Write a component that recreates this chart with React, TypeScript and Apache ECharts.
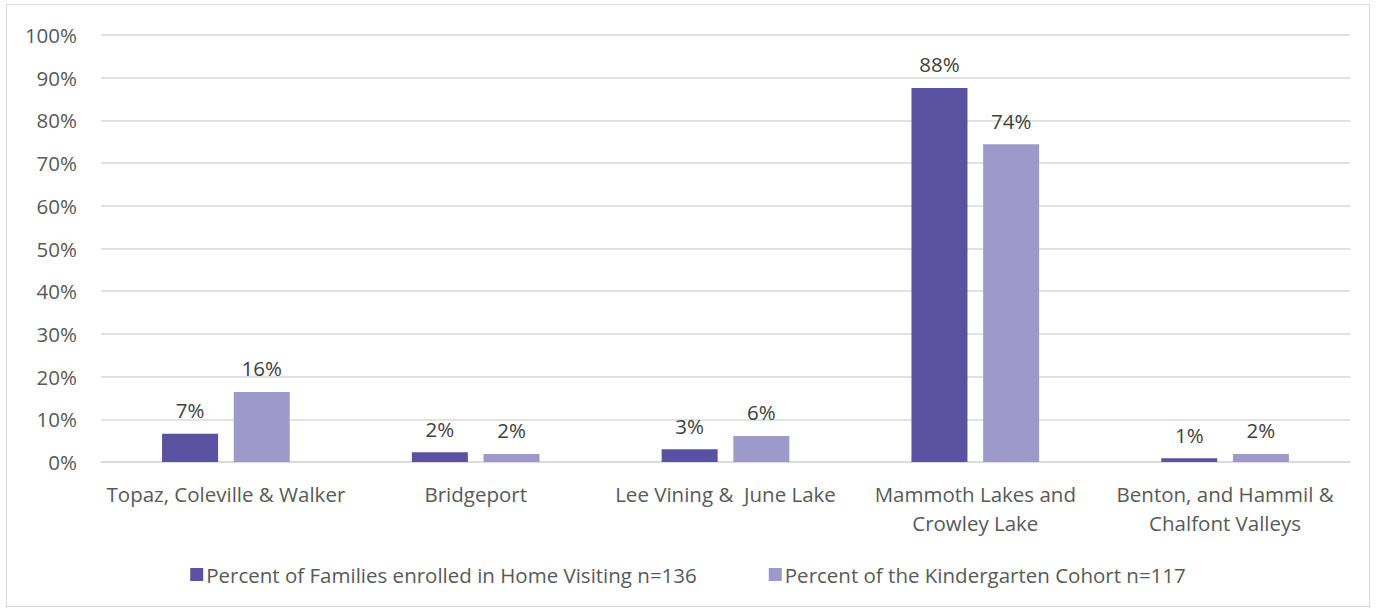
import React, { useEffect, useRef } from "react";
import * as echarts from "echarts";

const categories = [
  "Topaz, Coleville & Walker",
  "Bridgeport",
  "Lee Vining &  June Lake",
  "Mammoth Lakes and\nCrowley Lake",
  "Benton, and Hammil &\nChalfont Valleys",
];
const homeVisiting = [0.066, 0.023, 0.03, 0.876, 0.009];
const kindergarten = [0.164, 0.019, 0.061, 0.744, 0.019];
const seriesNames = [
  "Percent of Families enrolled in Home Visiting n=136",
  "Percent of the Kindergarten Cohort n=117",
];
const colors = ["#5a52a0", "#9e99cb"];

const FONT = "'Open Sans', sans-serif";

export default function App() {
  const ref = useRef<HTMLDivElement>(null);
  useEffect(() => {
    if (!ref.current) return;
    const chart = echarts.init(ref.current, null, { renderer: "svg" });
    const label = {
      show: true,
      position: "top" as const,
      distance: 13,
      color: "#404040",
      fontSize: 20.5,
      fontFamily: FONT,
      formatter: (p: any) => Math.round(p.value * 100) + "%",
    };
    chart.setOption({
      animation: false,
      textStyle: { fontFamily: FONT },
      grid: { left: 94, right: 19, top: 30, bottom: 144, containLabel: false },
      legend: {
        bottom: 16,
        left: "center",
        itemWidth: 13,
        itemHeight: 13,
        itemGap: 72,
        icon: "rect",
        textStyle: { color: "#595959", fontSize: 20.5, fontFamily: FONT, padding: [0, 0, 0, -2] },
        data: seriesNames,
      },
      xAxis: {
        type: "category",
        data: categories,
        axisTick: { show: false },
        axisLine: { lineStyle: { color: "#d9d9d9", width: 1.5 } },
        axisLabel: {
          color: "#595959",
          fontSize: 20.5,
          fontFamily: FONT,
          margin: 17,
          lineHeight: 29,
          interval: 0,
        },
      },
      yAxis: {
        type: "value",
        min: 0,
        max: 1,
        interval: 0.1,
        axisLine: { show: false },
        axisTick: { show: false },
        splitLine: { lineStyle: { color: "#d9d9d9", width: 1.5 } },
        axisLabel: {
          color: "#595959",
          fontSize: 20.5,
          fontFamily: FONT,
          margin: 24,
          formatter: (v: number) => Math.round(v * 100) + "%",
        },
      },
      series: [
        {
          name: seriesNames[0],
          type: "bar",
          data: homeVisiting,
          barWidth: 56,
          barGap: "28%",
          itemStyle: { color: colors[0] },
          label,
        },
        {
          name: seriesNames[1],
          type: "bar",
          data: kindergarten,
          barWidth: 56,
          itemStyle: { color: colors[1] },
          label,
        },
      ],
    });
    return () => chart.dispose();
  }, []);
  return (
    <div
      style={{
        position: "absolute",
        left: 6,
        top: 4,
        width: 1364,
        height: 603,
        border: "1.5px solid #d9d9d9",
        background: "#fff",
        boxSizing: "border-box",
      }}
    >
      <div ref={ref} style={{ width: "100%", height: "100%" }} />
    </div>
  );
}
